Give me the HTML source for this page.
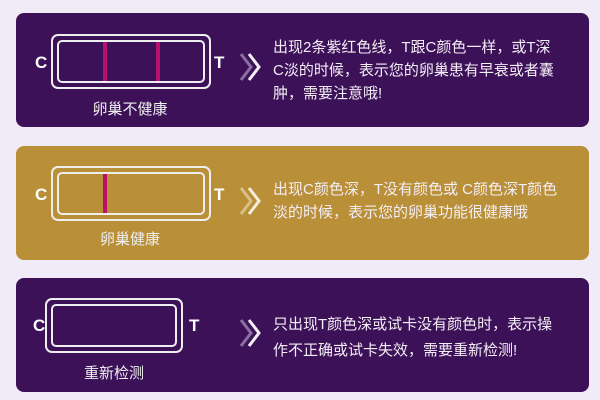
<!DOCTYPE html><html><head><style>
body{margin:0;width:600px;height:400px;background:#f0ebf6;position:relative;overflow:hidden;font-family:"Liberation Sans","Noto Sans CJK SC",sans-serif}
.p{position:absolute;left:16px;width:573px;height:114px;border-radius:8px}
.pu{background:#3c1158}.go{background:#b98f38}
.o{position:absolute;border:2px solid #eee;border-radius:7px;box-sizing:border-box}
.i{position:absolute;border:2px solid #eee;border-radius:5px;box-sizing:border-box}
.l{position:absolute;width:4px;background:#b8106c}
.c{position:absolute;color:#fff;font-weight:bold;font-size:17px}
.lab{position:absolute;color:#eee;font-size:15px;text-align:center}
.t{position:absolute;left:273px;color:#f3eef5;font-size:15px;line-height:23px;width:320px;letter-spacing:0;white-space:nowrap}
svg{position:absolute}
</style></head><body>
<div class="p pu" style="top:13px"></div>
<div class="p go" style="top:146px"></div>
<div class="p pu" style="top:278px"></div>

<div class="o" style="left:51px;top:34px;width:160px;height:55px"></div>
<div class="i" style="left:57px;top:40px;width:148px;height:43px"></div>
<div class="l" style="left:103px;top:42px;height:39px"></div>
<div class="l" style="left:156px;top:42px;height:39px"></div>
<div class="c" style="left:35px;top:53px">C</div><div class="c" style="left:214px;top:53px">T</div>
<div class="lab" style="left:80px;top:98px;width:100px">卵巢不健康</div>
<svg style="left:238px;top:52px" width="26" height="30"><path d="M3 2 L13 15 L3 28" fill="none" stroke="#8a6fa0" stroke-width="3"/><path d="M11 2 L21 15 L11 28" fill="none" stroke="#f2eef6" stroke-width="3"/></svg>
<div class="t" style="top:36px">出现2条紫红色线，T跟C颜色一样，或T深<br>C淡的时候，表示您的卵巢患有早衰或者囊<br>肿，需要注意哦!</div>

<div class="o" style="left:51px;top:166px;width:160px;height:55px"></div>
<div class="i" style="left:57px;top:172px;width:148px;height:43px"></div>
<div class="l" style="left:103px;top:174px;height:39px"></div>
<div class="c" style="left:35px;top:185px">C</div><div class="c" style="left:214px;top:185px">T</div>
<div class="lab" style="left:80px;top:228px;width:100px">卵巢健康</div>
<svg style="left:238px;top:186px" width="26" height="30"><path d="M3 2 L13 15 L3 28" fill="none" stroke="#d8c08a" stroke-width="3"/><path d="M11 2 L21 15 L11 28" fill="none" stroke="#f5eedd" stroke-width="3"/></svg>
<div class="t" style="top:178px">出现C颜色深，T没有颜色或 C颜色深T颜色<br>淡的时候，表示您的卵巢功能很健康哦</div>

<div class="o" style="left:45px;top:298px;width:138px;height:55px"></div>
<div class="i" style="left:51px;top:304px;width:126px;height:43px"></div>
<div class="c" style="left:33px;top:316px">C</div><div class="c" style="left:189px;top:316px">T</div>
<div class="lab" style="left:64px;top:362px;width:100px">重新检测</div>
<svg style="left:238px;top:318px" width="26" height="30"><path d="M3 2 L13 15 L3 28" fill="none" stroke="#8a6fa0" stroke-width="3"/><path d="M11 2 L21 15 L11 28" fill="none" stroke="#f2eef6" stroke-width="3"/></svg>
<div class="t" style="top:312px;line-height:26px">只出现T颜色深或试卡没有颜色时，表示操<br>作不正确或试卡失效，需要重新检测!</div>
</body></html>
